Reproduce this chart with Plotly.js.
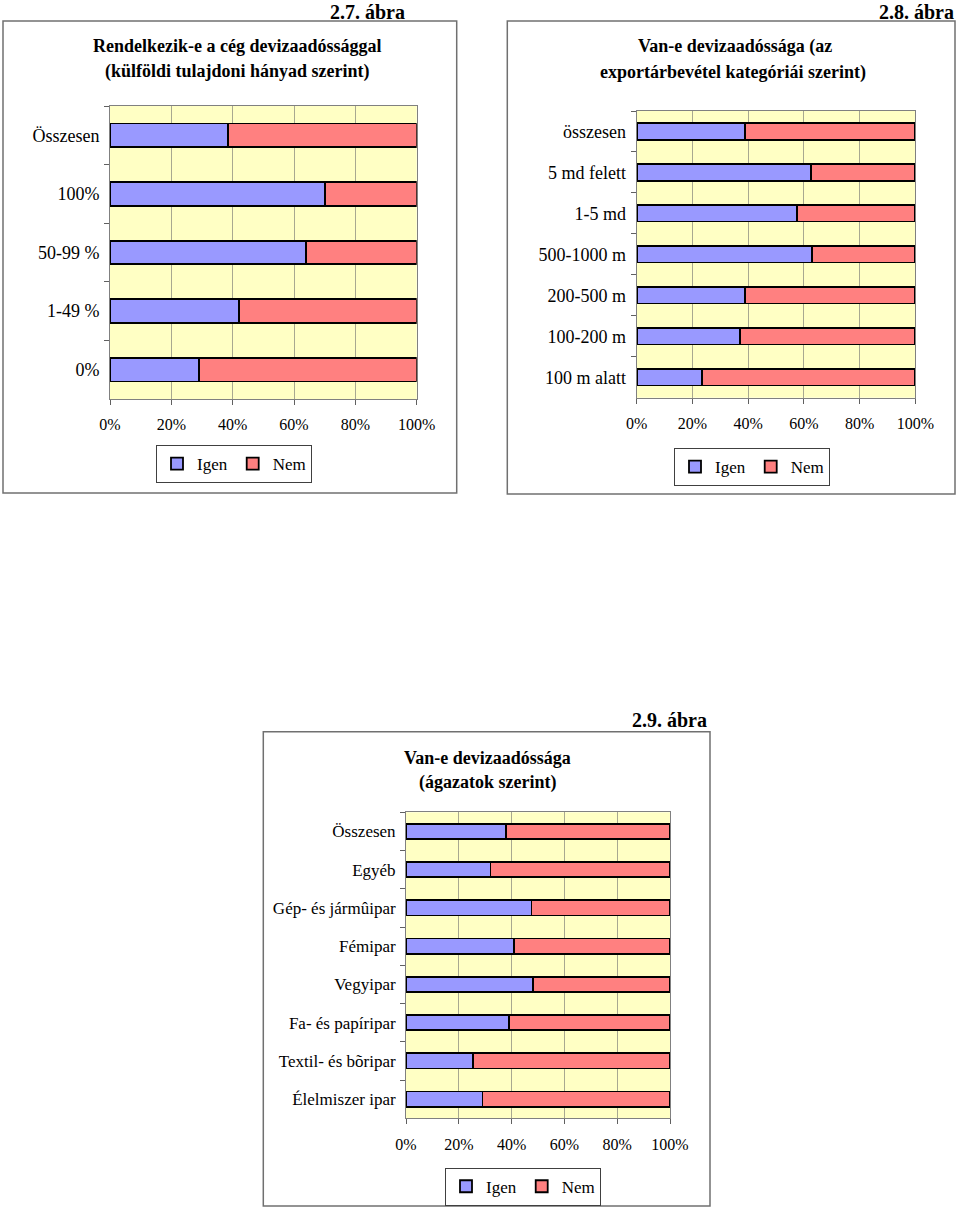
<!DOCTYPE html>
<html>
<head>
<meta charset="utf-8">
<script src="https://cdn.plot.ly/plotly-3.0.1.min.js"></script>
<style>html,body{margin:0;padding:0;background:#fff;}#chart{width:960px;height:1211px;}</style>
</head>
<body>
<div id="chart"></div>
<script>
// ---- Data ----
const cats1 = ["Összesen", "100%", "50-99 %", "1-49 %", "0%"];
const igen1 = [38.5, 70, 64, 42, 29];
const nem1  = [61.5, 30, 36, 58, 71];

const cats2 = ["összesen", "5 md felett", "1-5 md", "500-1000 m", "200-500 m", "100-200 m", "100 m alatt"];
const igen2 = [39, 62.5, 57.5, 63, 39, 37, 23.5];
const nem2  = [61, 37.5, 42.5, 37, 61, 63, 76.5];

const cats3 = ["Összesen", "Egyéb", "Gép- és jármûipar", "Fémipar", "Vegyipar", "Fa- és papíripar", "Textil- és bõripar", "Élelmiszer ipar"];
const igen3 = [38, 32, 47.5, 41, 48, 39, 25.5, 29];
const nem3  = [62, 68, 52.5, 59, 52, 61, 74.5, 71];

const seriesNames = ["Igen", "Nem"];
const xTickVals = [0, 20, 40, 60, 80, 100];

// ---- Styling ----
const FONT = '"Liberation Serif", "Times New Roman", serif';
const W = 960, H = 1211;
const colIgen = '#9999FF', colNem = '#FF8080';
const px = v => v / W;
const py = v => 1 - v / H;

function mkTraces(cats, igen, nem, xa, ya, leg) {
  return [
    {type:'bar', orientation:'h', name:seriesNames[0], y:cats, x:igen, xaxis:xa, yaxis:ya, legend:leg,
     marker:{color:colIgen, line:{color:'#000', width:1.8}}, hoverinfo:'x+y'},
    {type:'bar', orientation:'h', name:seriesNames[1], y:cats, x:nem, xaxis:xa, yaxis:ya, legend:leg,
     marker:{color:colNem, line:{color:'#000', width:1.8}}, hoverinfo:'x+y'}
  ];
}

const data = [].concat(
  mkTraces(cats1, igen1, nem1, 'x', 'y', 'legend'),
  mkTraces(cats2, igen2, nem2, 'x2', 'y2', 'legend2'),
  mkTraces(cats3, igen3, nem3, 'x3', 'y3', 'legend3')
);

function xax(domain, anchor) {
  return {domain:domain, anchor:anchor, range:[0,100], tickvals:xTickVals, ticktext:xTickVals.map(v=>v+'%'),
    showgrid:true, gridcolor:'#A8A890', gridwidth:1, zeroline:false,
    showline:true, linecolor:'#808080', linewidth:1, mirror:true,
    ticks:'outside', ticklen:5, tickcolor:'#606060', ticklabelstandoff:6,
    tickfont:{family:FONT, size:16, color:'#000'}, fixedrange:true};
}
function yax(domain, anchor, n, size) {
  return {domain:domain, anchor:anchor, type:'category', range:[n-0.5, -0.5],
    showgrid:false, zeroline:false, showline:true, linecolor:'#808080', linewidth:1, mirror:true,
    ticks:'outside', tickson:'boundaries', ticklen:5, tickcolor:'#606060', ticklabelstandoff:6,
    tickfont:{family:FONT, size:size, color:'#000'}, fixedrange:true};
}
function leg(xc, ytop) {
  return {orientation:'h', traceorder:'normal', x:px(xc), xanchor:'center', y:py(ytop), yanchor:'top',
    bgcolor:'#fff', bordercolor:'#404040', borderwidth:1, itemwidth:30,
    font:{family:FONT, size:17, color:'#000'}, itemclick:false, itemdoubleclick:false};
}
function box(x0,y0,x1,y1){
  return {type:'rect', xref:'paper', yref:'paper', x0:px(x0), x1:px(x1), y0:py(y0), y1:py(y1),
    line:{color:'#707070', width:1.5}, fillcolor:'rgba(0,0,0,0)', layer:'below'};
}
function txt(x, y, s, size, bold, xanchor) {
  return {xref:'paper', yref:'paper', x:px(x), y:py(y), text: bold ? '<b>'+s+'</b>' : s, showarrow:false,
    xanchor:xanchor||'center', yanchor:'middle', font:{family:FONT, size:size, color:'#000'}};
}

const layout = {
  width:W, height:H, margin:{l:0,r:0,t:0,b:0}, paper_bgcolor:'#fff', plot_bgcolor:'#FFFFC4',
  barmode:'stack', bargap:0.6, showlegend:true,
  xaxis: xax([px(110), px(416.7)], 'y'),
  yaxis: yax([py(399), py(106)], 'x', cats1.length, 18),
  xaxis2: xax([px(636.7), px(915.3)], 'y2'),
  yaxis2: yax([py(397.7), py(111)], 'x2', cats2.length, 18),
  xaxis3: xax([px(406), px(670)], 'y3'),
  yaxis3: yax([py(1118.3), py(812.3)], 'x3', cats3.length, 17),
  legend: leg(234, 445),
  legend2: leg(752, 448),
  legend3: leg(523, 1167.7),
  shapes:[ box(3,21,456.7,493), box(507.3,21,955,494), box(263.3,731.7,710,1206) ],
  annotations:[
    txt(407, 12, '2.7. ábra', 20, true, 'right'),
    txt(237, 46, 'Rendelkezik-e a cég devizaadóssággal', 18, true),
    txt(237, 71, '(külföldi tulajdoni hányad szerint)', 18, true),
    txt(956, 12, '2.8. ábra', 20, true, 'right'),
    txt(735, 47, 'Van-e devizaadóssága (az', 18, true),
    txt(733, 72, 'exportárbevétel kategóriái szerint)', 18, true),
    txt(709, 720, '2.9. ábra', 20, true, 'right'),
    txt(487, 758, 'Van-e devizaadóssága', 18, true),
    txt(487, 782, '(ágazatok szerint)', 18, true)
  ]
};

Plotly.newPlot('chart', data, layout, {displayModeBar:false});
</script>
</body>
</html>
